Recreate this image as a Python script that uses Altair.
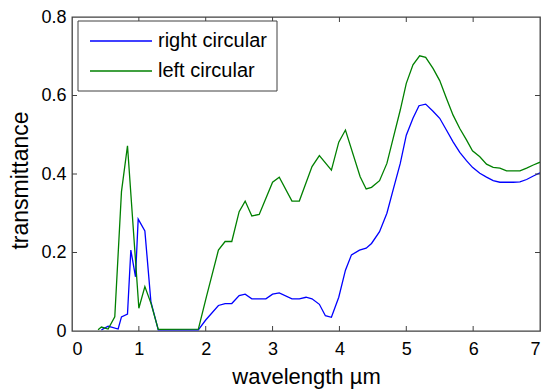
import altair as alt
import pandas as pd

# Transmittance spectra for the two circular polarisations
series_names = ["right circular", "left circular"]
series_colors = ["#0000ff", "#008000"]

wl_right = [0.44, 0.54, 0.59, 0.69, 0.74, 0.83, 0.88, 0.95, 0.99, 1.09, 1.18, 1.29,
            1.89, 2.0, 2.19, 2.29, 2.39, 2.5, 2.59, 2.69, 2.9, 3.0, 3.1, 3.29, 3.4,
            3.5, 3.59, 3.7, 3.79, 3.88, 3.99, 4.09, 4.18, 4.3, 4.4, 4.48, 4.6, 4.71,
            4.81, 4.91, 5.0, 5.1, 5.19, 5.29, 5.4, 5.5, 5.6, 5.7, 5.8, 5.9, 5.99,
            6.1, 6.2, 6.3, 6.4, 6.6, 6.7, 6.8, 6.9, 7.0]
tr_right = [0.003, 0.012, 0.01, 0.005, 0.036, 0.043, 0.206, 0.138, 0.285, 0.255, 0.075, 0.003,
            0.003, 0.028, 0.065, 0.07, 0.07, 0.09, 0.094, 0.082, 0.082, 0.094, 0.097, 0.082, 0.082,
            0.086, 0.082, 0.068, 0.039, 0.035, 0.086, 0.155, 0.194, 0.206, 0.211, 0.223, 0.253, 0.3,
            0.364, 0.427, 0.499, 0.542, 0.574, 0.578, 0.56, 0.542, 0.512, 0.482, 0.455, 0.434, 0.417,
            0.402, 0.392, 0.383, 0.379, 0.379, 0.38, 0.386, 0.395, 0.403]

wl_left = [0.39, 0.44, 0.54, 0.64, 0.74, 0.83, 1.0, 1.09, 1.18, 1.29, 1.89, 2.01,
           2.19, 2.29, 2.39, 2.5, 2.59, 2.69, 2.8, 3.0, 3.1, 3.29, 3.4, 3.59, 3.7,
           3.88, 3.99, 4.09, 4.31, 4.4, 4.48, 4.6, 4.71, 4.81, 4.91, 5.0, 5.1, 5.2,
           5.29, 5.4, 5.5, 5.6, 5.7, 5.8, 5.9, 5.99, 6.1, 6.2, 6.3, 6.4, 6.5, 6.7,
           6.8, 6.9, 7.0]
tr_left = [0.003, 0.01, 0.005, 0.036, 0.355, 0.472, 0.058, 0.113, 0.071, 0.004, 0.005, 0.087,
           0.206, 0.228, 0.228, 0.304, 0.331, 0.293, 0.297, 0.379, 0.392, 0.331, 0.331, 0.419, 0.447,
           0.41, 0.481, 0.512, 0.393, 0.362, 0.366, 0.383, 0.427, 0.495, 0.563, 0.631, 0.678, 0.701,
           0.697, 0.669, 0.638, 0.593, 0.55, 0.516, 0.487, 0.459, 0.444, 0.425, 0.417, 0.415, 0.408, 0.408,
           0.415, 0.423, 0.43]

x_ticks = [0, 1, 2, 3, 4, 5, 6, 7]
y_ticks = [0, 0.2, 0.4, 0.6, 0.8]

W, H = 468, 314
FONT = "Liberation Sans"
FRAME = "#404040"

df = pd.concat([
    pd.DataFrame({"wavelength": wl_right, "transmittance": tr_right, "series": series_names[0]}),
    pd.DataFrame({"wavelength": wl_left, "transmittance": tr_left, "series": series_names[1]}),
])

xscale = alt.Scale(domain=[0, 7], nice=False, zero=False)
yscale = alt.Scale(domain=[0, 0.8], nice=False)

lines = alt.Chart(df).mark_line(strokeWidth=1.3, clip=True).encode(
    x=alt.X("wavelength:Q", scale=xscale,
            axis=alt.Axis(values=x_ticks, title="wavelength µm", format="d",
                          titleY=52, titleBaseline="alphabetic", titleFontSize=22,
                          labelPadding=9)),
    y=alt.Y("transmittance:Q", scale=yscale,
            axis=alt.Axis(values=y_ticks, title="transmittance",
                          labelExpr="datum.value == 0 ? '0' : format(datum.value, '.1f')",
                          titleAngle=270, titleX=-45, titleY=163, titleFontSize=23,
                          titleBaseline="alphabetic", labelPadding=6)),
    color=alt.Color("series:N", scale=alt.Scale(domain=series_names, range=series_colors),
                    legend=None),
    detail="series:N",
)

# inward tick marks on all four sides of the box
xt = pd.DataFrame({"v": x_ticks[1:-1]})
yt = pd.DataFrame({"v": y_ticks[1:-1]})
tick_len = 5
ticks = [
    alt.Chart(xt).mark_rule(color=FRAME, strokeWidth=1).encode(
        x=alt.X("v:Q", scale=xscale), y=alt.value(H), y2=alt.value(H - tick_len)),
    alt.Chart(xt).mark_rule(color=FRAME, strokeWidth=1).encode(
        x=alt.X("v:Q", scale=xscale), y=alt.value(0), y2=alt.value(tick_len)),
    alt.Chart(yt).mark_rule(color=FRAME, strokeWidth=1).encode(
        y=alt.Y("v:Q", scale=yscale), x=alt.value(0), x2=alt.value(tick_len)),
    alt.Chart(yt).mark_rule(color=FRAME, strokeWidth=1).encode(
        y=alt.Y("v:Q", scale=yscale), x=alt.value(W), x2=alt.value(W - tick_len)),
]

# boxed legend in the upper-left corner
one = pd.DataFrame({"k": [0]})
legend_box = alt.Chart(one).mark_rect(fill="white", stroke=FRAME, strokeWidth=1).encode(
    x=alt.value(6), x2=alt.value(205), y=alt.value(4), y2=alt.value(74))
legend_parts = [legend_box]
for i, (name, col) in enumerate(zip(series_names, series_colors)):
    ly = 24 + 30 * i
    legend_parts.append(
        alt.Chart(one).mark_rule(color=col, strokeWidth=1.3).encode(
            x=alt.value(18), x2=alt.value(80), y=alt.value(ly)))
    legend_parts.append(
        alt.Chart(one).mark_text(text=name, align="left", baseline="middle",
                                 font=FONT, fontSize=20, color="black").encode(
            x=alt.value(86), y=alt.value(ly)))

chart = alt.layer(lines, *ticks, *legend_parts).properties(
    width=W, height=H,
    background="white",
    autosize=alt.AutoSizeParams(type="none"),
    padding={"left": 72, "top": 17, "right": 3, "bottom": 59},
).configure_view(
    stroke=FRAME, strokeWidth=1.3
).configure_axis(
    domain=False, ticks=False, grid=False,
    labelFont=FONT, labelFontSize=18, labelColor="black",
    titleFont=FONT, titleColor="black", titleFontWeight="normal",
)

chart.save("out.html", embed_options={"renderer": "svg", "actions": False})
